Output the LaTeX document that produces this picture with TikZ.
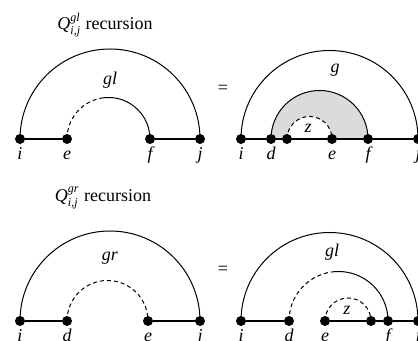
\documentclass[tikz,border=0pt]{standalone}
\usepackage{amsmath}
\usepackage{fontspec}
\setmainfont{Liberation Serif}
\usetikzlibrary{backgrounds}
\newcommand{\tv}[1]{\text{\itshape #1}}
\tikzset{
  dot/.style={circle, fill, inner sep=0pt, minimum size=5pt},
  lbl/.style={label={[anchor=north, label distance=1pt, inner sep=0.5pt, text height=6pt, text depth=2pt]below:\tv{#1}}},
  arcline/.style={line width=0.5pt},
  dashline/.style={line width=0.5pt, dash pattern=on 2pt off 1.5pt},
  rail/.style={line width=0.7pt}
}
\begin{document}
\begin{tikzpicture}[x=0.5pt, y=0.5pt, font=\fontsize{9}{10}\selectfont]
    \useasboundingbox (0,0) rectangle (418,341);

    % Q^gl, left side
    \node (gltitle) at (105,316) {\tv{Q}$^{\tv{gl}}_{\tv{i,j}}$ recursion};
    \node[dot, lbl=i] (ai) at (20,202) {};
    \node[dot, lbl=e] (ae) at (67,202) {};
    \node[dot, lbl=f] (af) at (150,202) {};
    \node[dot, lbl=j] (aj) at (200,202) {};
    \draw[rail] (ai) -- (ae) (af) -- (aj);
    \draw[arcline] (ai.center) arc[start angle=180, end angle=0, radius=90];
    \draw[dashline] (ae.center) arc[start angle=180, end angle=100, radius=41.5];
    \draw[arcline] (af.center) arc[start angle=0, end angle=100, radius=41.5];
    \node (algl) at (110,261) {\tv{gl}};

    % Q^gl, right side
    \node (eqa) at (223,252) {=};
    \node[dot, lbl=i] (bi) at (241,202) {};
    \node[dot, lbl=d] (bd) at (271,202) {};
    \node[dot] (bz) at (287,202) {};
    \node[dot, lbl=e] (be) at (332,202) {};
    \node[dot, lbl=f] (bf) at (368,202) {};
    \node[dot, lbl=j] (bj) at (418,202) {};
    \begin{scope}[on background layer]
        \fill[gray!28] (bd.center) arc[start angle=180, end angle=0, radius=48.5]
            -- (be.center) arc[start angle=0, end angle=180, radius=22.5] -- cycle;
    \end{scope}
    \draw[rail] (bi) -- (bd) -- (bz) -- (be) -- (bf) -- (bj);
    \draw[arcline] (bi.center) arc[start angle=180, end angle=0, radius=88.5];
    \draw[arcline] (bd.center) arc[start angle=180, end angle=0, radius=48.5];
    \draw[dashline] (bz.center) arc[start angle=180, end angle=0, radius=22.5];
    \node (bg) at (335,271) {\tv{g}};
    \node (bzl) at (308,213) {\tv{z}};

    % Q^gr, left side
    \node (grtitle) at (103,143) {\tv{Q}$^{\tv{gr}}_{\tv{i,j}}$ recursion};
    \node[dot, lbl=i] (ci) at (20,20) {};
    \node[dot, lbl=d] (cd) at (67,20) {};
    \node[dot, lbl=e] (ce) at (148,20) {};
    \node[dot, lbl=j] (cj) at (200,20) {};
    \draw[rail] (ci) -- (cd) (ce) -- (cj);
    \draw[arcline] (ci.center) arc[start angle=180, end angle=0, radius=90];
    \draw[dashline] (cd.center) arc[start angle=180, end angle=0, radius=40.5];
    \node (cgr) at (110,83) {\tv{gr}};

    % Q^gr, right side
    \node (eqb) at (223,71) {=};
    \node[dot, lbl=i] (di) at (241,20) {};
    \node[dot, lbl=d] (dd) at (289,20) {};
    \node[dot, lbl=e] (de) at (325,20) {};
    \node[dot] (dz) at (371,20) {};
    \node[dot, lbl=f] (df) at (388,20) {};
    \node[dot, lbl=j] (dj) at (418,20) {};
    \draw[rail] (di) -- (dd) (de) -- (dz) -- (df) -- (dj);
    \draw[arcline] (di.center) arc[start angle=180, end angle=0, radius=88.5];
    \draw[dashline] (dd.center) arc[start angle=180, end angle=98, radius=49.5];
    \draw[arcline] (df.center) arc[start angle=0, end angle=98, radius=49.5];
    \draw[dashline] (de.center) arc[start angle=180, end angle=0, radius=23];
    \node (dgl) at (332,89) {\tv{gl}};
    \node (dzl) at (347,31) {\tv{z}};
\end{tikzpicture}
\end{document}
